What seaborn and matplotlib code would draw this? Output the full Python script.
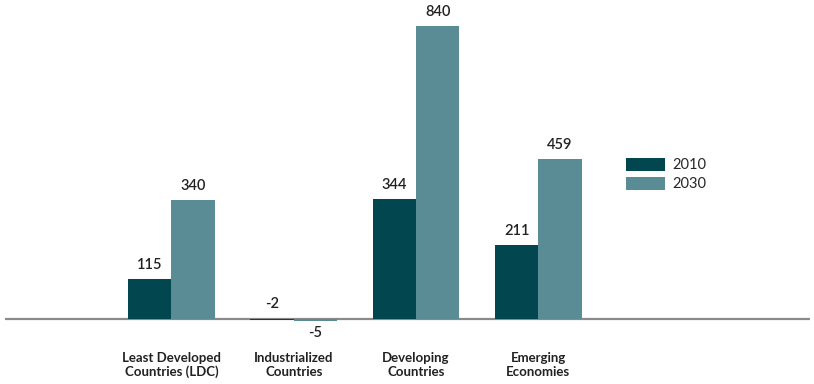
import matplotlib
matplotlib.use("Agg")
import matplotlib.pyplot as plt
import seaborn as sns
import pandas as pd
from matplotlib.patches import Patch

categories = ["Least Developed\nCountries (LDC)", "Industrialized\nCountries",
              "Developing\nCountries", "Emerging\nEconomies"]
years = ["2010", "2030"]
values_2010 = [115, -2, 344, 211]
values_2030 = [340, -5, 840, 459]
colors = ["#024650", "#5a8c95"]

df = pd.DataFrame({
    "cat": categories * 2,
    "year": [years[0]] * 4 + [years[1]] * 4,
    "val": values_2010 + values_2030,
})

sns.set_theme(style="white")
plt.rcParams["font.family"] = ["Lato", "DejaVu Sans"]

fig = plt.figure(figsize=(8.14, 3.84), dpi=100)
ax = fig.add_axes([5 / 814, 54 / 384, 805 / 814, 320 / 384])

ax.axhline(0, color="#8a8a8a", lw=1.6, zorder=0.5)
sns.barplot(data=df, x="cat", y="val", hue="year", palette=colors,
            saturation=1, width=0.71, ax=ax, legend=False,
            linewidth=0, edgecolor="none", zorder=2)

ax.set_xlim(-1.36, 5.22)
ax.set_ylim(-31.5, 885)
for s in ax.spines.values():
    s.set_visible(False)
ax.set_yticks([])
ax.set_xlabel("")
ax.set_ylabel("")
ax.tick_params(axis="x", length=0, pad=16)
for lbl in ax.get_xticklabels():
    lbl.set_fontsize(9.5)
    lbl.set_fontweight("bold")
    lbl.set_color("#222222")
    lbl.set_linespacing(1.15)

for ci, cont in enumerate(ax.containers):
    for p in cont.patches:
        v = p.get_height()
        x = p.get_x() + p.get_width() / 2
        kw = dict(textcoords="offset points", ha="center", fontsize=10.5,
                  color="#222222", fontweight="semibold")
        if v >= 0:
            ax.annotate(f"{v:.0f}", (x, v), xytext=(0, 5), va="bottom", **kw)
        elif ci == 0:
            ax.annotate(f"{v:.0f}", (x, 0), xytext=(0, 6), va="bottom", **kw)
        else:
            ax.annotate(f"{v:.0f}", (x, v), xytext=(0, -4), va="top", **kw)

handles = [Patch(facecolor=c, edgecolor="none") for c in colors]
fig.legend(handles, years, loc="upper left", bbox_to_anchor=(614 / 814, 1 - 146 / 384),
           frameon=False, fontsize=10.5, handlelength=2.7, handleheight=1.0,
           handletextpad=0.5, labelspacing=0.3, borderpad=0.3)

fig.savefig("out.png", dpi=100)
